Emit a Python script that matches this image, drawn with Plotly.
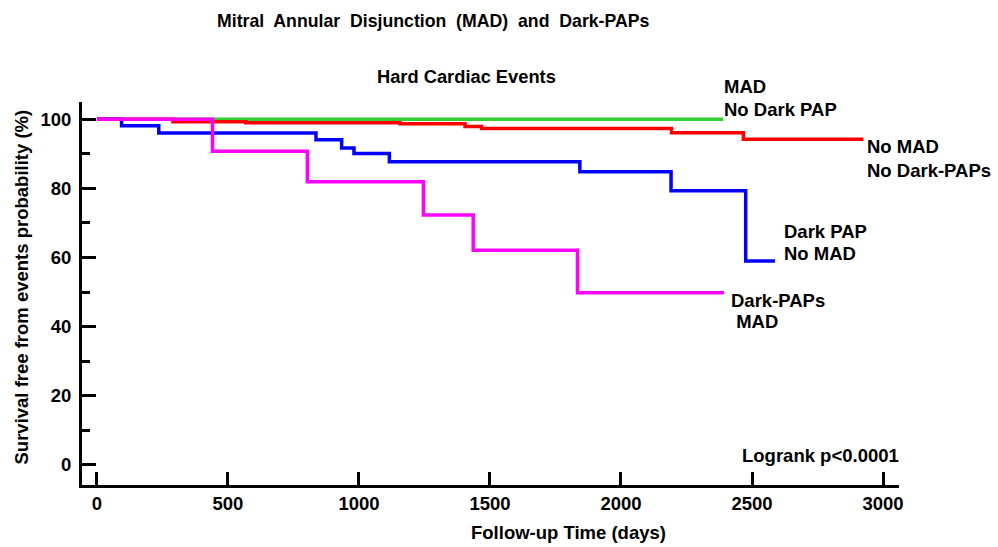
import plotly.graph_objects as go

# Kaplan-Meier step data (days, survival %)
green_t = [0, 2390]
green_s = [100, 100]
red_t = [0, 290, 568, 1157, 1405, 1468, 2193, 2467, 2925]
red_s = [100, 99.3, 99.0, 98.7, 97.9, 97.3, 96.1, 94.2, 94.2]
blue_t = [0, 94, 236, 836, 934, 981, 1116, 1843, 2191, 2476, 2588]
blue_s = [100, 98.1, 96.0, 94.1, 91.7, 90.1, 87.7, 84.8, 79.3, 59.0, 59.0]
mag_t = [0, 441, 803, 1246, 1436, 1834, 2393]
mag_s = [100, 90.75, 81.9, 72.3, 62.1, 49.8, 49.8]

x_ticks = [0, 500, 1000, 1500, 2000, 2500, 3000]
y_ticks = [0, 20, 40, 60, 80, 100]

FONT = "Liberation Sans, Arial, sans-serif"
L, R, T, B = 82, 99, 102, 62
W, H = 998, 547
PW, PH = W - L - R, H - T - B

fig = go.Figure()
for t, s, c in [(green_t, green_s, "#33cc33"), (red_t, red_s, "#ff0000"),
                (blue_t, blue_s, "#0000ff"), (mag_t, mag_s, "#ff00ff")]:
    fig.add_trace(go.Scatter(x=t, y=s, mode="lines", line=dict(color=c, width=3.5, shape="hv"),
                             hoverinfo="skip", showlegend=False))

def ann(text, px, py, size=18.5, xanchor="left", angle=0):
    fig.add_annotation(text=text, x=(px - L) / PW, y=(H - B - py) / PH, xref="paper", yref="paper",
                       showarrow=False, xanchor=xanchor, yanchor="middle", textangle=angle,
                       font=dict(family=FONT, size=size, color="black", weight="bold"))

ann("MAD", 722, 87)
ann("No Dark PAP", 722, 109)
ann("No MAD", 865, 146)
ann("No Dark-PAPs", 865, 170)
ann("Dark PAP", 782, 231)
ann("No MAD", 782, 253)
ann("Dark-PAPs", 729, 300.5)
ann(" MAD", 729, 321.5)
ann("Logrank p<0.0001", 740, 455)
ann("Mitral  Annular  Disjunction  (MAD)  and  Dark-PAPs", 433, 21, size=17.7, xanchor="center")
ann("Hard Cardiac Events", 466, 76, size=18.3, xanchor="center")
ann("Follow-up Time (days)", 568, 532, xanchor="center")
ann("Survival free from events probability (%)", 21, 287.5, xanchor="center", angle=-90)

fig.update_layout(
    width=W, height=H, margin=dict(l=L, r=R, t=T, b=B),
    paper_bgcolor="white", plot_bgcolor="white",
    xaxis=dict(range=[-57, 3061], tickvals=x_ticks, ticks="inside", ticklen=13, tickwidth=2.5,
               tickcolor="black", showline=True, linecolor="black", linewidth=3, showgrid=False,
               zeroline=False, tickfont=dict(family=FONT, size=18.5, color="black", weight="bold")),
    yaxis=dict(range=[-5.8, 105], tickvals=y_ticks, ticks="inside", ticklen=14, tickwidth=2.5,
               tickcolor="black", showline=True, linecolor="black", linewidth=3, showgrid=False,
               zeroline=False, ticklabelstandoff=4,
               minor=dict(tickvals=[10, 30, 50, 70, 90], ticks="inside", ticklen=8, tickwidth=2.5,
                          tickcolor="black", showgrid=False),
               tickfont=dict(family=FONT, size=18.5, color="black", weight="bold")),
)
fig.write_html("out.html")
